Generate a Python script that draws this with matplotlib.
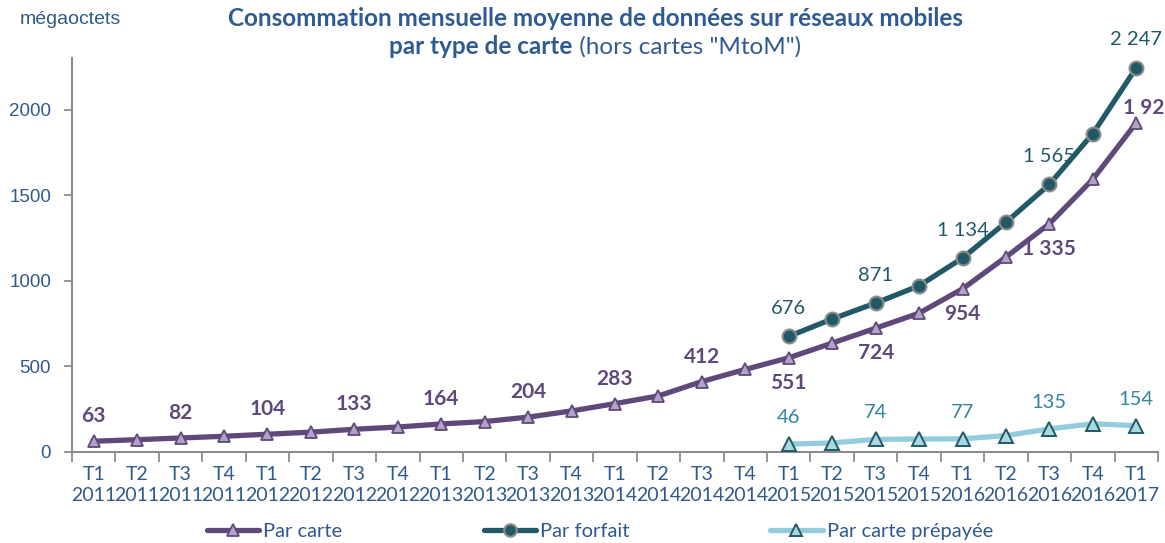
import matplotlib
matplotlib.use("Agg")
import matplotlib.pyplot as plt
from matplotlib.lines import Line2D
import numpy as np

# Quarters T1 2011 .. T1 2017
quarters = ["T1", "T2", "T3", "T4"] * 6 + ["T1"]
years = [str(y) for y in range(2011, 2017) for _ in range(4)] + ["2017"]
tick_labels = [f"{q}\n{y}" for q, y in zip(quarters, years)]

# Average monthly mobile data use (MB)
par_carte = [63, 72, 82, 92, 104, 116, 133, 146, 164, 178, 204, 240, 283, 328,
             412, 483, 551, 637, 724, 812, 954, 1140, 1335, 1595, 1925]
# Post-paid and prepaid series start in T1 2015
par_forfait = [676, 778, 871, 972, 1134, 1343, 1565, 1862, 2247]
par_prepayee = [46, 53, 74, 76, 77, 96, 135, 165, 154]

labeled_carte = list(range(0, 25, 2))
labeled_split = [0, 2, 4, 6, 8]

PURPLE = "#5F497A"
PURPLE_LIGHT = "#B3A2C7"
TEAL = "#215967"
LIGHTBLUE = "#93CDDD"
PREPAID_TXT = "#31859C"
AXIS_TXT = "#2E5A8C"
TITLE_TXT = "#2F5B92"
GRID_GREY = "#8C8C8C"

CAL = ["Lato", "DejaVu Sans"]
ARIAL = ["Liberation Sans", "DejaVu Sans"]


def fmt(v):
    return f"{v:,}".replace(",", " ")


fig = plt.figure(figsize=(11.65, 5.43), dpi=100)
W, H = 1165, 543
ax = fig.add_axes([72 / W, 1 - 452 / H, (1158 - 72) / W, (452 - 58) / H])

x_all = np.arange(len(par_carte))
x_split = np.arange(16, 16 + len(par_forfait))

ax.plot(x_all, par_carte, color=PURPLE, lw=3.8, marker="^", ms=9,
        mfc=PURPLE_LIGHT, mec=PURPLE, mew=1.3, zorder=3, solid_capstyle="round")
ax.plot(x_split, par_forfait, color=TEAL, lw=3.8, marker="o", ms=10,
        mfc=TEAL, mec="#8C8C8C", mew=1.5, zorder=3, solid_capstyle="round")
ax.plot(x_split, par_prepayee, color=LIGHTBLUE, lw=3.8, marker="^", ms=10,
        mfc="#A9D8E3", mec=TEAL, mew=1.4, zorder=3, solid_capstyle="round")

# value labels
for i in labeled_carte:
    v = par_carte[i]
    if i <= 14:
        off = (0, 18)
    elif i < 24:
        off = (0, -18)
    else:
        off = (10, 11)
    ax.annotate(fmt(v), (x_all[i], v), xytext=off, textcoords="offset points",
                ha="center", va="center", color=PURPLE, fontsize=15,
                fontweight="bold", family=CAL, annotation_clip=False)

for j in labeled_split:
    ax.annotate(fmt(par_forfait[j]), (x_split[j], par_forfait[j]), xytext=(0, 20),
                textcoords="offset points", ha="center", va="center",
                color=TEAL, fontsize=14.5, family=CAL)
    ax.annotate(fmt(par_prepayee[j]), (x_split[j], par_prepayee[j]), xytext=(0, 19),
                textcoords="offset points", ha="center", va="center",
                color=PREPAID_TXT, fontsize=14.5, family=CAL)

ax.set_xlim(-0.5, len(par_carte) - 0.5)
ax.set_ylim(0, 2304)

ax.set_yticks([0, 500, 1000, 1500, 2000])
ax.set_yticklabels(["0", "500", "1000", "1500", "2000"], family=ARIAL,
                   fontsize=13.5, color=AXIS_TXT)
ax.tick_params(axis="y", direction="out", length=6, width=1.3, color=GRID_GREY, pad=9)

ax.set_xticks(x_all)
ax.set_xticklabels(tick_labels, family=CAL, fontsize=14, color=AXIS_TXT,
                   linespacing=1.3)
ax.set_xticks(np.arange(-0.5, len(par_carte)), minor=True)
ax.tick_params(axis="x", which="major", length=0, pad=10)
ax.tick_params(axis="x", which="minor", direction="out", length=7, width=1.3,
               color=GRID_GREY)

for s in ["top", "right"]:
    ax.spines[s].set_visible(False)
for s in ["left", "bottom"]:
    ax.spines[s].set_color(GRID_GREY)
    ax.spines[s].set_linewidth(1.5)

# unit label
fig.text(20 / W, 1 - 19 / H, "mégaoctets", family=ARIAL, fontsize=14,
         color=AXIS_TXT, ha="left", va="center")

# title, first line bold, second line mixed bold/regular
cx = 595 / W
TSIZE = 17.5
fig.text(cx, 1 - 18 / H, "Consommation mensuelle moyenne de données sur réseaux mobiles",
         family=CAL, fontsize=TSIZE, fontweight="bold", color=TITLE_TXT,
         ha="center", va="center")
t_bold = fig.text(0, 1 - 47 / H, "par type de carte", family=CAL, fontsize=TSIZE,
                  fontweight="bold", color=TITLE_TXT, ha="left", va="center")
t_norm = fig.text(0, 1 - 47 / H, " (hors cartes \"MtoM\")", family=CAL, fontsize=TSIZE,
                  color=TITLE_TXT, ha="left", va="center")
renderer = fig.canvas.get_renderer()
wb = t_bold.get_window_extent(renderer).width / W
wn = t_norm.get_window_extent(renderer).width / W
start = cx - (wb + wn) / 2
t_bold.set_x(start)
t_norm.set_x(start + wb)

# legend
handles = [
    Line2D([], [], color=PURPLE, lw=3.8, marker="^", ms=8, mfc=PURPLE_LIGHT,
           mec=PURPLE, mew=1.3, solid_capstyle="round"),
    Line2D([], [], color=TEAL, lw=3.8, marker="o", ms=9, mfc=TEAL,
           mec="#8C8C8C", mew=1.5, solid_capstyle="round"),
    Line2D([], [], color=LIGHTBLUE, lw=3.8, marker="^", ms=9, mfc="#A9D8E3",
           mec=TEAL, mew=1.4, solid_capstyle="round"),
]
names = ["Par carte", "Par forfait", "Par carte prépayée"]
fig.legend(handles, names, loc="center", bbox_to_anchor=(600 / W, 1 - 531 / H),
           ncol=3, frameon=False, prop={"family": CAL, "size": 14.5},
           labelcolor=AXIS_TXT, handlelength=2.6, handletextpad=0.2,
           columnspacing=7.0, borderaxespad=0, borderpad=0)

fig.savefig("out.png", dpi=100)
